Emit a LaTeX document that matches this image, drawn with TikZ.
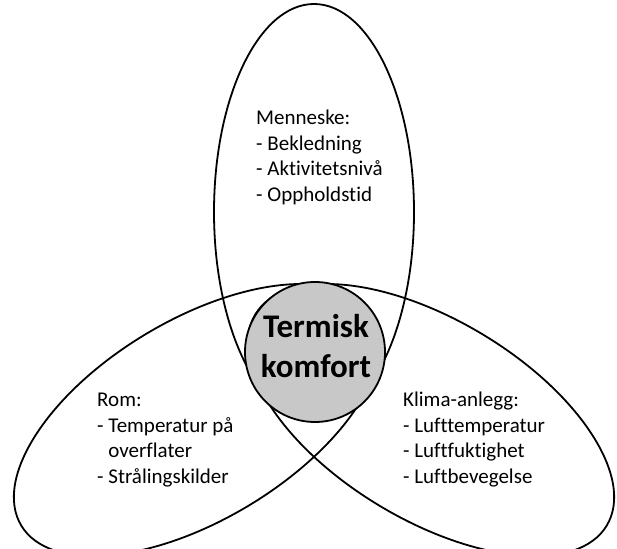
\documentclass[tikz,border=0pt]{standalone}
\usepackage{fontspec}
\setmainfont{Carlito}[Ligatures=NoCommon]
\usetikzlibrary{positioning}
\definecolor{hubgray}{RGB}{200,200,200}

\begin{document}
\begin{tikzpicture}[x=1pt,y=1pt,
  petal/.style={draw=black, line width=1.8pt},
  hub/.style={draw=black, line width=1.8pt, fill=hubgray},
  factors/.style={align=left, anchor=north west, inner sep=0pt,
    font=\fontsize{21}{25.6}\selectfont},
  title/.style={align=center, anchor=north, inner sep=0pt,
    font=\fontsize{33}{40}\selectfont\bfseries}]

% Frame
\useasboundingbox (0,0) rectangle (617,548);
\clip (0,0) rectangle (617,548);

% Ellipses
\draw[petal] (314,336) ellipse [x radius=100, y radius=208];
\draw[petal, rotate around={31:(197,128)}] (197,128) ellipse [x radius=205, y radius=100];
\draw[petal, rotate around={-31:(431,128)}] (431,128) ellipse [x radius=205, y radius=100];

% Centre
\draw[hub] (315,196) circle (70);

% Labels
\node[title]   (komfort)  at (316,234) {Termisk\\komfort};
\node[factors] (menneske) at (256,438) {Menneske:\\- Bekledning\\- Aktivitetsnivå\\- Oppholdstid};
\node[factors] (rom)      at (97,155)  {Rom:\\- Temperatur på\\\hphantom{- }overflater\\- Strålingskilder};
\node[factors] (klima)    at (403,156) {Klima-anlegg:\\- Lufttemperatur\\- Luftfuktighet\\- Luftbevegelse};

\end{tikzpicture}
\end{document}
